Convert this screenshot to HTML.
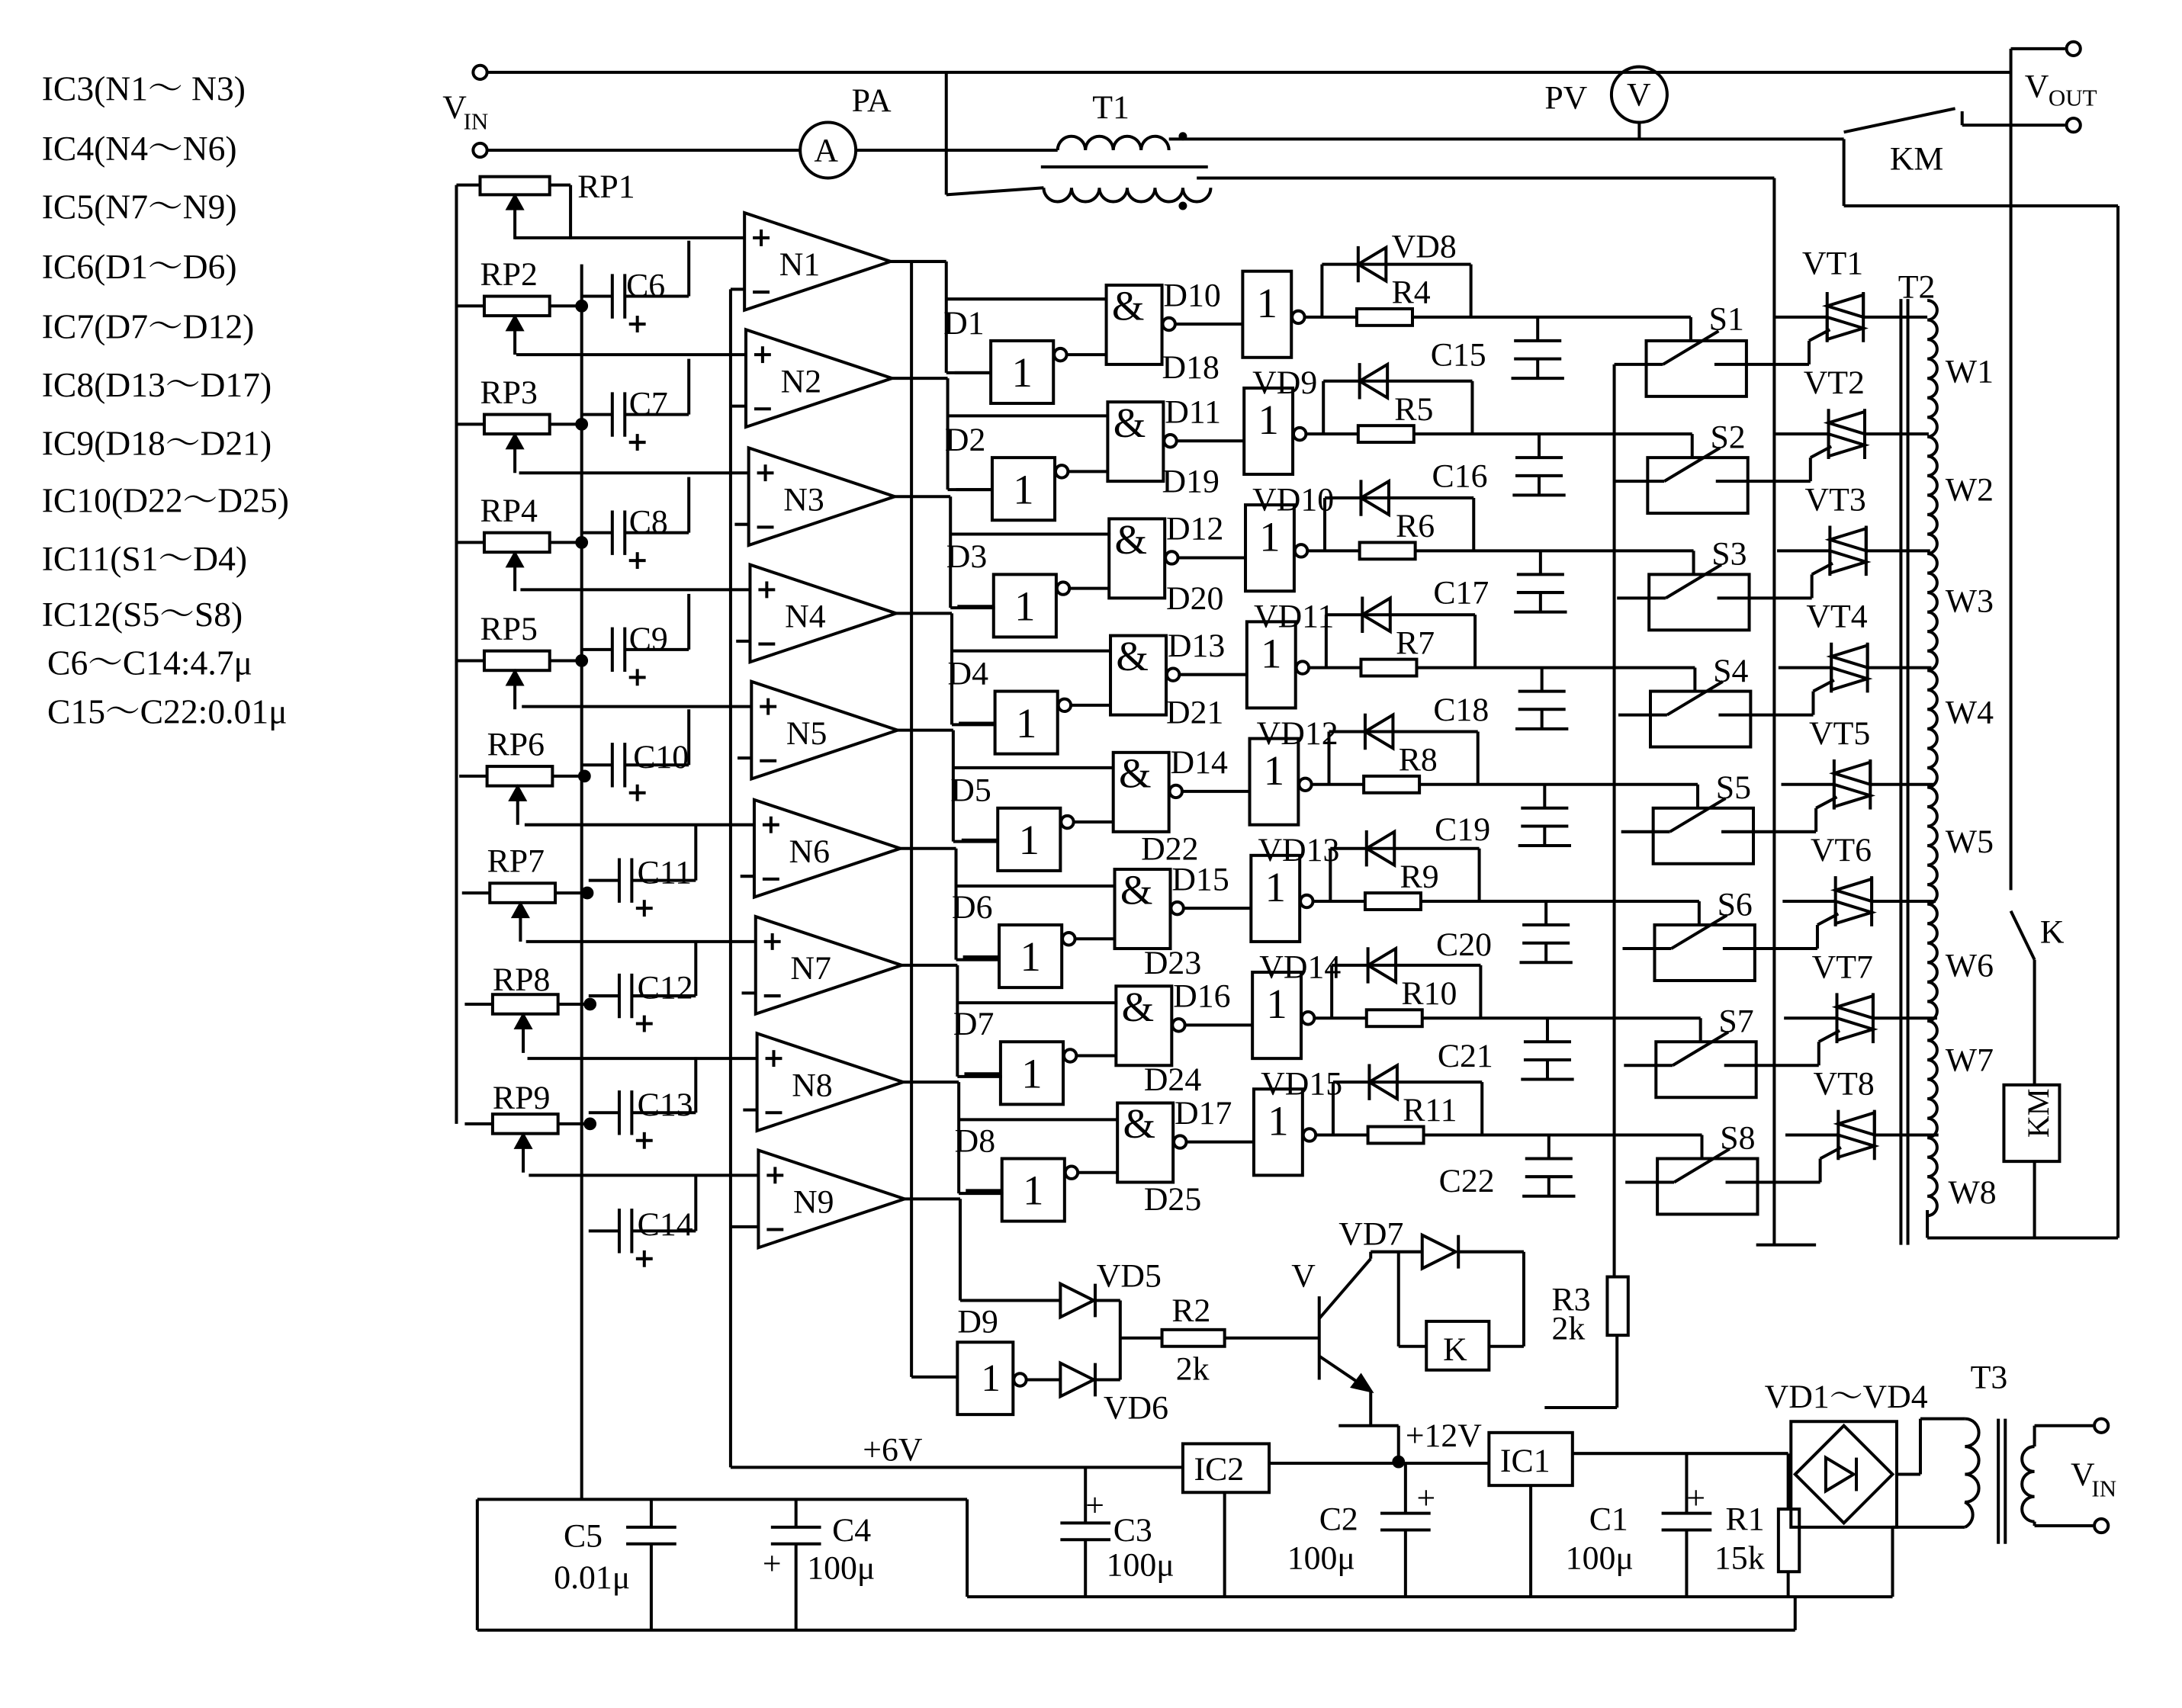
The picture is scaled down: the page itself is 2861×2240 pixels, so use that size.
<!DOCTYPE html>
<html><head><meta charset="utf-8">
<style>
html,body{margin:0;padding:0;background:#fff;}
svg{display:block;}
text{font-family:"Liberation Serif","Noto Serif CJK SC",serif;fill:#000;}
</style></head>
<body>
<svg width="2861" height="2240" viewBox="0 0 1568 1228" preserveAspectRatio="none" xmlns="http://www.w3.org/2000/svg">
<rect width="1568" height="1228" fill="#fff"/>
<defs>
<g id="op" fill="none" stroke="#000" stroke-width="2.2">
 <polygon points="0,-35 0,35 105,0"/>
 <line x1="6" y1="-17" x2="18" y2="-17"/><line x1="12" y1="-23" x2="12" y2="-11"/>
 <line x1="6" y1="22" x2="18" y2="22"/>
 <line x1="-165" y1="-17" x2="0" y2="-17"/>
 <line x1="-10" y1="20" x2="0" y2="20"/>
 <line x1="105" y1="0" x2="145" y2="0"/>
 <line x1="145" y1="0" x2="145" y2="80"/>
 <line x1="145" y1="80" x2="177" y2="80"/>
 <line x1="145" y1="27" x2="260" y2="27"/>
</g>
<g id="cap" fill="none" stroke="#000" stroke-width="2.2">
 <line x1="418" y1="0" x2="440" y2="0"/>
 <line x1="440" y1="-16" x2="440" y2="16"/>
 <line x1="449" y1="-16" x2="449" y2="16"/>
 <line x1="449" y1="0" x2="495" y2="0"/>
 <line x1="495" y1="0" x2="495" y2="-40"/>
 <line x1="452" y1="20" x2="464" y2="20"/><line x1="458" y1="14" x2="458" y2="26"/>
</g>
<g id="rp" fill="none" stroke="#000" stroke-width="2.2">
 <line x1="328" y1="0" x2="348" y2="0"/>
 <rect x="348" y="-7" width="47" height="14"/>
 <line x1="395" y1="0" x2="418" y2="0"/>
 <line x1="370" y1="35" x2="370" y2="9"/>
 <polygon points="370,8 365,17 375,17" fill="#000"/>
 <circle cx="418" cy="0" r="3.5" fill="#000"/>
</g>
<g id="row" fill="none" stroke="#000" stroke-width="2.2">
 <line x1="686" y1="268" x2="712" y2="268"/>
 <rect x="712" y="245" width="45" height="45"/>
 <circle cx="762" cy="255" r="4.5"/>
 <line x1="767" y1="255" x2="795" y2="255"/>
 <rect x="795" y="205" width="40" height="57"/>
 <circle cx="840" cy="233" r="4.5"/>
 <line x1="845" y1="233" x2="893" y2="233"/>
 <rect x="893" y="195" width="35" height="62"/>
 <circle cx="933" cy="228" r="4.5"/>
 <line x1="938" y1="228" x2="975" y2="228"/>
 <rect x="975" y="222" width="40" height="12"/>
 <line x1="1015" y1="228" x2="1215" y2="228"/>
 <line x1="1215" y1="228" x2="1215" y2="245"/>
 <line x1="950" y1="228" x2="950" y2="190"/>
 <line x1="950" y1="190" x2="1057" y2="190"/>
 <line x1="1057" y1="190" x2="1057" y2="228"/>
 <line x1="976" y1="177" x2="976" y2="203"/>
 <polygon points="976,190 996,178 996,202"/>
 <line x1="1105" y1="228" x2="1105" y2="245"/>
 <line x1="1088" y1="245" x2="1122" y2="245"/>
 <line x1="1088" y1="258" x2="1122" y2="258"/>
 <line x1="1105" y1="258" x2="1105" y2="272"/>
 <line x1="1086" y1="272" x2="1124" y2="272"/>
 <rect x="1183" y="245" width="72" height="40"/>
 <line x1="1160" y1="262" x2="1195" y2="262"/>
 <line x1="1195" y1="262" x2="1235" y2="238"/>
 <line x1="1232" y1="262" x2="1300" y2="262"/>
 <line x1="1300" y1="262" x2="1300" y2="245"/>
 <line x1="1300" y1="245" x2="1315" y2="237"/>
 <line x1="1275" y1="228" x2="1313" y2="228"/>
 <line x1="1313" y1="210" x2="1313" y2="246"/>
 <line x1="1339" y1="210" x2="1339" y2="246"/>
 <polygon points="1339,212 1313,220 1339,228"/>
 <polygon points="1313,228 1339,236 1313,244"/>
 <line x1="1339" y1="228" x2="1385" y2="228"/>
</g>
</defs>

<g font-size="25">
<text x="30" y="72">IC3(N1～ N3)</text>
<text x="30" y="115">IC4(N4～N6)</text>
<text x="30" y="157">IC5(N7～N9)</text>
<text x="30" y="200">IC6(D1～D6)</text>
<text x="30" y="243">IC7(D7～D12)</text>
<text x="30" y="285">IC8(D13～D17)</text>
<text x="30" y="327">IC9(D18～D21)</text>
<text x="30" y="368">IC10(D22～D25)</text>
<text x="30" y="410">IC11(S1～D4)</text>
<text x="30" y="450">IC12(S5～S8)</text>
<text x="34" y="485">C6～C14:4.7μ</text>
<text x="34" y="520">C15～C22:0.01μ</text>
</g>

<g fill="none" stroke="#000" stroke-width="2.2">
<circle cx="345" cy="52" r="5"/><circle cx="345" cy="108" r="5"/>
<line x1="350" y1="52" x2="1445" y2="52"/>
<line x1="350" y1="108" x2="575" y2="108"/>
<circle cx="595" cy="108" r="20"/>
<line x1="615" y1="108" x2="760" y2="108"/>
<path d="M760,108 a10,10 0 0 1 20,0 a10,10 0 0 1 20,0 a10,10 0 0 1 20,0 a10,10 0 0 1 20,0"/>
<line x1="840" y1="100" x2="1325" y2="100"/>
<line x1="748" y1="120" x2="868" y2="120"/>
<path d="M750,135 a10,10 0 0 0 20,0 a10,10 0 0 0 20,0 a10,10 0 0 0 20,0 a10,10 0 0 0 20,0 a10,10 0 0 0 20,0 a10,10 0 0 0 20,0"/>
<line x1="680" y1="52" x2="680" y2="140"/>
<line x1="680" y1="140" x2="750" y2="135"/>
<line x1="860" y1="128" x2="1275" y2="128"/>
<line x1="1275" y1="128" x2="1275" y2="895"/>
<line x1="1262" y1="895" x2="1305" y2="895"/>
<circle cx="1178" cy="68" r="20"/>
<line x1="1178" y1="88" x2="1178" y2="100"/>
<line x1="1325" y1="100" x2="1325" y2="148"/>
<line x1="1325" y1="95" x2="1405" y2="78"/>
<line x1="1410" y1="90" x2="1484" y2="90"/>
<line x1="1410" y1="80" x2="1410" y2="90"/>
<circle cx="1490" cy="35" r="5"/><circle cx="1490" cy="90" r="5"/>
<line x1="1445" y1="35" x2="1484" y2="35"/>
<line x1="1445" y1="35" x2="1445" y2="640"/>
<line x1="1445" y1="655" x2="1462" y2="690"/>
<line x1="1462" y1="690" x2="1462" y2="780"/>
<rect x="1440" y="780" width="40" height="55"/>
<line x1="1462" y1="835" x2="1462" y2="890"/>
<line x1="1325" y1="148" x2="1522" y2="148"/>
<line x1="1522" y1="148" x2="1522" y2="890"/>
<line x1="1385" y1="870" x2="1385" y2="890"/>
<line x1="1385" y1="890" x2="1522" y2="890"/>
<line x1="1366" y1="215" x2="1366" y2="895"/>
<line x1="1371" y1="215" x2="1371" y2="895"/>
<path d="M1385,216 a7,7 0 0 1 0,14 a7,7 0 0 1 0,14 a7,7 0 0 1 0,14 a7,7 0 0 1 0,14 a7,7 0 0 1 0,14 a7,7 0 0 1 0,14 a7,7 0 0 1 0,14 a7,7 0 0 1 0,14 a7,7 0 0 1 0,14 a7,7 0 0 1 0,14 a7,7 0 0 1 0,14 a7,7 0 0 1 0,14 a7,7 0 0 1 0,14 a7,7 0 0 1 0,14 a7,7 0 0 1 0,14 a7,7 0 0 1 0,14 a7,7 0 0 1 0,14 a7,7 0 0 1 0,14 a7,7 0 0 1 0,14 a7,7 0 0 1 0,14 a7,7 0 0 1 0,14 a7,7 0 0 1 0,14 a7,7 0 0 1 0,14 a7,7 0 0 1 0,14 a7,7 0 0 1 0,14 a7,7 0 0 1 0,14 a7,7 0 0 1 0,14 a7,7 0 0 1 0,14 a7,7 0 0 1 0,14 a7,7 0 0 1 0,14 a7,7 0 0 1 0,14 a7,7 0 0 1 0,14 a7,7 0 0 1 0,14 a7,7 0 0 1 0,14 a7,7 0 0 1 0,14 a7,7 0 0 1 0,14 a7,7 0 0 1 0,14 a7,7 0 0 1 0,14 a7,7 0 0 1 0,14 a7,7 0 0 1 0,14 a7,7 0 0 1 0,14 a7,7 0 0 1 0,14 a7,7 0 0 1 0,14 a7,7 0 0 1 0,14 a7,7 0 0 1 0,14 a7,7 0 0 1 0,14 a7,7 0 0 1 0,14"/>

<line x1="328" y1="133" x2="328" y2="808"/>
<line x1="328" y1="133" x2="345" y2="133"/>
<rect x="345" y="127" width="50" height="13"/>
<line x1="395" y1="133" x2="410" y2="133"/>
<line x1="410" y1="133" x2="410" y2="172"/>
<line x1="370" y1="172" x2="370" y2="142"/>
<polygon points="370,141 365,150 375,150" fill="#000"/>
<line x1="418" y1="190" x2="418" y2="1078"/>
<line x1="525" y1="208" x2="525" y2="1055"/>
<line x1="343" y1="1078" x2="695" y2="1078"/>
<line x1="343" y1="1078" x2="343" y2="1172"/>
<line x1="343" y1="1172" x2="1290" y2="1172"/>
<line x1="1290" y1="1172" x2="1290" y2="1148"/>
<line x1="655" y1="188" x2="655" y2="990"/>
<line x1="655" y1="990" x2="688" y2="990"/>
<line x1="1160" y1="262" x2="1160" y2="918"/>
</g>

<use href="#op" x="535" y="188"/>
<use href="#op" x="536" y="272"/>
<use href="#op" x="538" y="357"/>
<use href="#op" x="539" y="441"/>
<use href="#op" x="540" y="525"/>
<use href="#op" x="542" y="610"/>
<use href="#op" x="543" y="694"/>
<use href="#op" x="544" y="778"/>
<g fill="none" stroke="#000" stroke-width="2.2" transform="translate(545,862)">
 <polygon points="0,-35 0,35 105,0"/>
 <line x1="6" y1="-17" x2="18" y2="-17"/><line x1="12" y1="-23" x2="12" y2="-11"/>
 <line x1="6" y1="22" x2="18" y2="22"/>
 <line x1="-165" y1="-17" x2="0" y2="-17"/>
 <line x1="-20" y1="20" x2="0" y2="20"/>
 <line x1="105" y1="0" x2="145" y2="0"/>
 <line x1="145" y1="0" x2="145" y2="73"/>
 <line x1="145" y1="73" x2="217" y2="73"/>
</g>
<g font-size="24">
<text x="560" y="198">N1</text><text x="561" y="282">N2</text><text x="563" y="367">N3</text>
<text x="564" y="451">N4</text><text x="565" y="535">N5</text><text x="567" y="620">N6</text>
<text x="568" y="704">N7</text><text x="569" y="788">N8</text><text x="570" y="872">N9</text>
</g>

<use href="#rp" x="0" y="220"/><use href="#rp" x="0" y="305"/><use href="#rp" x="0" y="390"/>
<use href="#rp" x="0" y="475"/><use href="#rp" x="2" y="558"/><use href="#rp" x="4" y="642"/>
<use href="#rp" x="6" y="722"/><use href="#rp" x="6" y="808"/>
<use href="#cap" x="0" y="213"/><use href="#cap" x="0" y="298"/><use href="#cap" x="0" y="383"/>
<use href="#cap" x="0" y="467"/><use href="#cap" x="0" y="550"/><use href="#cap" x="5" y="633"/>
<use href="#cap" x="5" y="716"/><use href="#cap" x="5" y="800"/><use href="#cap" x="5" y="885"/>
<g font-size="24">
<text x="415" y="142">RP1</text>
<text x="345" y="205">RP2</text><text x="345" y="290">RP3</text><text x="345" y="375">RP4</text>
<text x="345" y="460">RP5</text><text x="350" y="543">RP6</text><text x="350" y="627">RP7</text>
<text x="354" y="712">RP8</text><text x="354" y="797">RP9</text>
<text x="450" y="213">C6</text><text x="452" y="298">C7</text><text x="452" y="383">C8</text>
<text x="452" y="467">C9</text><text x="455" y="552">C10</text><text x="458" y="635">C11</text>
<text x="458" y="718">C12</text><text x="458" y="802">C13</text><text x="458" y="888">C14</text>
</g>

<use href="#row" x="0" y="0"/>
<use href="#row" x="1" y="84"/>
<use href="#row" x="2" y="168"/>
<use href="#row" x="3" y="252"/>
<use href="#row" x="5" y="336"/>
<use href="#row" x="6" y="420"/>
<use href="#row" x="7" y="504"/>
<use href="#row" x="8" y="588"/>
<g font-size="24">
<text x="678" y="240">D1</text><text x="679" y="324">D2</text><text x="680" y="408">D3</text><text x="681" y="492">D4</text>
<text x="683" y="576">D5</text><text x="684" y="660">D6</text><text x="685" y="744">D7</text><text x="686" y="828">D8</text>
<text x="836" y="220">D10</text><text x="837" y="304">D11</text><text x="838" y="388">D12</text><text x="839" y="472">D13</text>
<text x="841" y="556">D14</text><text x="842" y="640">D15</text><text x="843" y="724">D16</text><text x="844" y="808">D17</text>
<text x="835" y="272">D18</text><text x="835" y="354">D19</text><text x="838" y="438">D20</text><text x="838" y="520">D21</text>
<text x="820" y="618">D22</text><text x="822" y="700">D23</text><text x="822" y="784">D24</text><text x="822" y="870">D25</text>
<text x="1000" y="185">VD8</text><text x="900" y="283">VD9</text><text x="900" y="367">VD10</text><text x="901" y="451">VD11</text>
<text x="903" y="535">VD12</text><text x="904" y="619">VD13</text><text x="905" y="703">VD14</text><text x="906" y="787">VD15</text>
<text x="1000" y="218">R4</text><text x="1002" y="302">R5</text><text x="1003" y="386">R6</text><text x="1003" y="470">R7</text>
<text x="1005" y="554">R8</text><text x="1006" y="638">R9</text><text x="1007" y="722">R10</text><text x="1008" y="806">R11</text>
<text x="1028" y="263">C15</text><text x="1029" y="350">C16</text><text x="1030" y="434">C17</text><text x="1030" y="518">C18</text>
<text x="1031" y="604">C19</text><text x="1032" y="687">C20</text><text x="1033" y="767">C21</text><text x="1034" y="857">C22</text>
<text x="1228" y="237">S1</text><text x="1229" y="322">S2</text><text x="1230" y="406">S3</text><text x="1231" y="490">S4</text>
<text x="1233" y="574">S5</text><text x="1234" y="658">S6</text><text x="1235" y="742">S7</text><text x="1236" y="826">S8</text>
<text x="1295" y="197">VT1</text><text x="1296" y="283">VT2</text><text x="1297" y="367">VT3</text><text x="1298" y="451">VT4</text>
<text x="1300" y="535">VT5</text><text x="1301" y="619">VT6</text><text x="1302" y="703">VT7</text><text x="1303" y="787">VT8</text>
<text x="1398" y="275">W1</text><text x="1398" y="360">W2</text><text x="1398" y="440">W3</text><text x="1398" y="520">W4</text>
<text x="1398" y="613">W5</text><text x="1398" y="702">W6</text><text x="1398" y="770">W7</text><text x="1400" y="865">W8</text>
<text x="1364" y="214">T2</text>
<text x="1466" y="678">K</text>
</g>
<g font-size="30">
<text x="727" y="278">1</text><text x="728" y="362">1</text><text x="729" y="446">1</text><text x="730" y="530">1</text>
<text x="732" y="614">1</text><text x="733" y="698">1</text><text x="734" y="782">1</text><text x="735" y="866">1</text>
<text x="903" y="228">1</text><text x="904" y="312">1</text><text x="905" y="396">1</text><text x="906" y="480">1</text>
<text x="908" y="564">1</text><text x="909" y="648">1</text><text x="910" y="732">1</text><text x="911" y="816">1</text>
<text x="799" y="230">&amp;</text><text x="800" y="314">&amp;</text><text x="801" y="398">&amp;</text><text x="802" y="482">&amp;</text>
<text x="804" y="566">&amp;</text><text x="805" y="650">&amp;</text><text x="806" y="734">&amp;</text><text x="807" y="818">&amp;</text>
</g>

<g fill="none" stroke="#000" stroke-width="2.2">
<rect x="688" y="965" width="40" height="52"/>
<circle cx="733" cy="992" r="4.5"/>
<line x1="738" y1="992" x2="762" y2="992"/>
<polygon points="762,980 762,1004 786,992"/><line x1="787" y1="980" x2="787" y2="1004"/>
<line x1="690" y1="862" x2="690" y2="935"/>
<line x1="690" y1="935" x2="762" y2="935"/>
<polygon points="762,923 762,947 786,935"/><line x1="787" y1="923" x2="787" y2="947"/>
<line x1="787" y1="935" x2="805" y2="935"/><line x1="787" y1="992" x2="805" y2="992"/>
<line x1="805" y1="935" x2="805" y2="992"/>
<line x1="805" y1="962" x2="835" y2="962"/>
<rect x="835" y="956" width="45" height="12"/>
<line x1="880" y1="962" x2="948" y2="962"/>
<line x1="948" y1="932" x2="948" y2="992"/>
<line x1="948" y1="948" x2="985" y2="905"/>
<line x1="985" y1="905" x2="985" y2="900"/>
<line x1="948" y1="975" x2="985" y2="1000"/>
<polygon points="985,1000 972,997 978,989" fill="#000"/>
<line x1="985" y1="1000" x2="985" y2="1025"/>
<line x1="962" y1="1025" x2="1005" y2="1025"/>
<line x1="1005" y1="1025" x2="1005" y2="1050"/>
<line x1="985" y1="900" x2="1022" y2="900"/>
<polygon points="1022,888 1022,912 1046,900"/><line x1="1048" y1="888" x2="1048" y2="912"/>
<line x1="1048" y1="900" x2="1095" y2="900"/>
<line x1="1095" y1="900" x2="1095" y2="968"/>
<line x1="1095" y1="968" x2="1070" y2="968"/>
<line x1="1005" y1="900" x2="1005" y2="968"/>
<line x1="1005" y1="968" x2="1025" y2="968"/>
<rect x="1025" y="950" width="45" height="35"/>
<rect x="1155" y="918" width="15" height="42"/>
<line x1="1162" y1="960" x2="1162" y2="1012"/>
<line x1="1162" y1="1012" x2="1110" y2="1012"/>
<line x1="525" y1="1055" x2="850" y2="1055"/>
<rect x="850" y="1038" width="62" height="35"/>
<line x1="912" y1="1052" x2="1070" y2="1052"/>
<circle cx="1005" cy="1051" r="3.5" fill="#000"/>
<rect x="1070" y="1030" width="60" height="38"/>
<line x1="1130" y1="1045" x2="1285" y2="1045"/>
<line x1="1285" y1="1045" x2="1285" y2="1085"/>
<rect x="1278" y="1085" width="15" height="45"/>
<line x1="1285" y1="1130" x2="1285" y2="1148"/>
<line x1="695" y1="1078" x2="695" y2="1148"/>
<line x1="695" y1="1148" x2="1360" y2="1148"/>
<line x1="1360" y1="1148" x2="1360" y2="1098"/>
<line x1="880" y1="1073" x2="880" y2="1148"/>
<line x1="1100" y1="1068" x2="1100" y2="1148"/>
<line x1="468" y1="1078" x2="468" y2="1098"/><line x1="450" y1="1098" x2="486" y2="1098"/>
<line x1="450" y1="1110" x2="486" y2="1110"/><line x1="468" y1="1110" x2="468" y2="1172"/>
<line x1="572" y1="1078" x2="572" y2="1098"/><line x1="554" y1="1098" x2="590" y2="1098"/>
<line x1="554" y1="1110" x2="590" y2="1110"/><line x1="572" y1="1110" x2="572" y2="1172"/>
<line x1="780" y1="1055" x2="780" y2="1095"/><line x1="762" y1="1095" x2="798" y2="1095"/>
<line x1="762" y1="1107" x2="798" y2="1107"/><line x1="780" y1="1107" x2="780" y2="1148"/>
<line x1="1010" y1="1052" x2="1010" y2="1088"/><line x1="992" y1="1088" x2="1028" y2="1088"/>
<line x1="992" y1="1100" x2="1028" y2="1100"/><line x1="1010" y1="1100" x2="1010" y2="1148"/>
<line x1="1212" y1="1045" x2="1212" y2="1088"/><line x1="1194" y1="1088" x2="1230" y2="1088"/>
<line x1="1194" y1="1100" x2="1230" y2="1100"/><line x1="1212" y1="1100" x2="1212" y2="1148"/>
<rect x="1287" y="1022" width="76" height="76"/>
<polygon points="1325,1025 1360,1060 1325,1095 1290,1060"/>
<polygon points="1312,1048 1312,1072 1332,1060"/><line x1="1334" y1="1048" x2="1334" y2="1072"/>
<line x1="1363" y1="1060" x2="1380" y2="1060"/>
<line x1="1380" y1="1060" x2="1380" y2="1020"/><line x1="1380" y1="1020" x2="1412" y2="1020"/>
<line x1="1360" y1="1098" x2="1412" y2="1098"/>
<path d="M1412,1020 a10,10 0 0 1 0,20 a10,10 0 0 1 0,20 a10,10 0 0 1 0,20 a10,10 0 0 1 0,18"/>
<line x1="1436" y1="1020" x2="1436" y2="1110"/><line x1="1441" y1="1020" x2="1441" y2="1110"/>
<path d="M1462,1040 a9,9 0 0 0 0,18 a9,9 0 0 0 0,18 a9,9 0 0 0 0,18"/>
<line x1="1462" y1="1040" x2="1462" y2="1025"/><line x1="1462" y1="1025" x2="1504" y2="1025"/>
<line x1="1462" y1="1094" x2="1462" y2="1097"/><line x1="1462" y1="1097" x2="1504" y2="1097"/>
<circle cx="1510" cy="1025" r="5"/><circle cx="1510" cy="1097" r="5"/>
</g>
<g font-size="24">
<text x="705" y="1000" font-size="28">1</text>
<text x="688" y="958">D9</text><text x="788" y="925">VD5</text><text x="793" y="1020">VD6</text>
<text x="842" y="950">R2</text><text x="845" y="992">2k</text>
<text x="928" y="925">V</text><text x="962" y="895">VD7</text>
<text x="1037" y="978">K</text>
<text x="1115" y="942">R3</text><text x="1115" y="963">2k</text>
<text x="620" y="1050">+6V</text><text x="1010" y="1040">+12V</text>
<text x="858" y="1064">IC2</text><text x="1078" y="1058">IC1</text>
<text x="405" y="1112">C5</text><text x="398" y="1142">0.01μ</text>
<text x="598" y="1108">C4</text><text x="580" y="1135">100μ</text><text x="548" y="1132">+</text>
<text x="800" y="1108">C3</text><text x="795" y="1133">100μ</text><text x="780" y="1090">+</text>
<text x="948" y="1100">C2</text><text x="925" y="1128">100μ</text><text x="1018" y="1085">+</text>
<text x="1142" y="1100">C1</text><text x="1125" y="1128">100μ</text><text x="1212" y="1085">+</text>
<text x="1240" y="1100">R1</text><text x="1232" y="1128">15k</text>
<text x="1268" y="1012">VD1～VD4</text><text x="1416" y="998">T3</text>
<text x="1488" y="1068">V</text><text x="1503" y="1076" font-size="17">IN</text>
<text x="318" y="85">V</text><text x="333" y="93" font-size="17">IN</text>
<text x="612" y="80">PA</text><text x="585" y="116">A</text>
<text x="785" y="85">T1</text>
<text x="1110" y="78">PV</text><text x="1169" y="76">V</text>
<text x="1455" y="70">V</text><text x="1472" y="76" font-size="17">OUT</text>
<text x="1358" y="122">KM</text>
</g>
<text x="1450" y="820" font-size="22" transform="rotate(-90 1460 808)">KM</text>
<circle cx="850" cy="98" r="3" fill="#000"/><circle cx="850" cy="148" r="3" fill="#000"/>
</svg>
</body></html>
